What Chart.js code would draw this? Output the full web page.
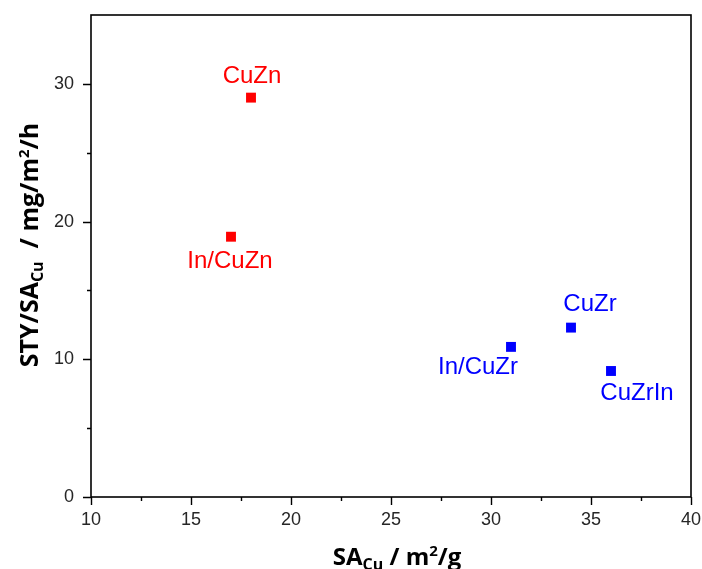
<!DOCTYPE html>
<html>
<head>
<meta charset="utf-8">
<script src="https://cdn.jsdelivr.net/npm/chart.js@4/dist/chart.umd.min.js"></script>
<style>
  html, body { margin: 0; padding: 0; background: #fff; }
  #wrap { width: 702px; height: 569px; position: relative; }
</style>
</head>
<body>
<div id="wrap"><canvas id="c" width="702" height="569"></canvas></div>
<script>
// Catalyst samples: Cu surface area vs. area-normalised space-time yield
const znSamples = ['CuZn', 'In/CuZn'];
const znSurfaceArea = [18, 17];
const znYield = [29.0, 18.9];

const zrSamples = ['CuZr', 'In/CuZr', 'CuZrIn'];
const zrSurfaceArea = [34, 31, 36];
const zrYield = [12.3, 10.9, 9.15];

const xMajorTicks = [10, 15, 20, 25, 30, 35, 40];
const yMajorTicks = [0, 10, 20, 30];

// where each sample's name sits relative to its marker (dx, dy in px)
const labelOffsets = {
  'CuZn': [1, -21],
  'In/CuZn': [-1, 25],
  'CuZr': [19, -23],
  'In/CuZr': [-33, 20],
  'CuZrIn': [26, 22]
};

const RED = '#ff0000';
const BLUE = '#0000ff';

const toPoints = (xs, ys) => xs.map((x, i) => ({ x, y: ys[i] }));

const frameAndLabels = {
  id: 'frameAndLabels',
  afterDraw(chart) {
    const { ctx, chartArea: a, scales } = chart;
    const xs = scales.x, ys = scales.y;
    ctx.save();
    // frame
    ctx.strokeStyle = '#000';
    ctx.lineWidth = 1.6;
    ctx.strokeRect(a.left, a.top, a.right - a.left, a.bottom - a.top);
    // ticks on bottom and left axes
    ctx.lineWidth = 1.4;
    ctx.beginPath();
    for (let v = 10; v <= 40.001; v += 2.5) {
      const px = Math.round(xs.getPixelForValue(v)) + 0.5;
      const major = Math.abs(v % 5) < 1e-6;
      ctx.moveTo(px, a.bottom);
      ctx.lineTo(px, a.bottom + (major ? 8 : 4));
    }
    for (let v = 0; v <= 30.001; v += 5) {
      const py = Math.round(ys.getPixelForValue(v)) + 0.5;
      const major = Math.abs(v % 10) < 1e-6;
      ctx.moveTo(a.left, py);
      ctx.lineTo(a.left - (major ? 8 : 4), py);
    }
    ctx.stroke();

    // sample names
    ctx.font = '24px "Liberation Sans", Arial, sans-serif';
    ctx.textAlign = 'center';
    ctx.textBaseline = 'middle';
    chart.data.datasets.forEach((ds, di) => {
      const meta = chart.getDatasetMeta(di);
      ctx.fillStyle = ds.backgroundColor;
      meta.data.forEach((el, i) => {
        const name = ds.names[i];
        const off = labelOffsets[name] || [0, -20];
        ctx.fillText(name, el.x + off[0], el.y + off[1]);
      });
    });

    // axis titles with sub/superscripts
    const bold = (s) => `bold ${s}px "Open Sans", "DejaVu Sans", sans-serif`;
    function drawRich(parts, cx, cy) {
      let total = 0;
      parts.forEach(p => { ctx.font = bold(p.size); total += ctx.measureText(p.t).width; });
      let x = cx - total / 2;
      ctx.textAlign = 'left';
      ctx.textBaseline = 'alphabetic';
      parts.forEach(p => {
        ctx.font = bold(p.size);
        ctx.fillText(p.t, x, cy + (p.dy || 0));
        x += ctx.measureText(p.t).width;
      });
    }
    ctx.fillStyle = '#000';
    drawRich([
      { t: 'SA', size: 24 },
      { t: 'Cu', size: 16, dy: 5 },
      { t: ' / m', size: 24 },
      { t: '2', size: 15, dy: -9 },
      { t: '/g', size: 24 }
    ], 397, 565);

    ctx.save();
    ctx.translate(38, 245);
    ctx.rotate(-Math.PI / 2);
    drawRich([
      { t: 'STY/SA', size: 25 },
      { t: 'Cu', size: 16, dy: 5 },
      { t: '  / mg/m', size: 25 },
      { t: '2', size: 15, dy: -9 },
      { t: '/h', size: 25 }
    ], 0, 0);
    ctx.restore();
    ctx.restore();
  }
};

new Chart(document.getElementById('c'), {
  type: 'scatter',
  data: {
    datasets: [
      {
        names: znSamples,
        data: toPoints(znSurfaceArea, znYield),
        backgroundColor: RED,
        borderWidth: 0,
        pointStyle: 'rect',
        pointRadius: 7,
        pointHoverRadius: 7
      },
      {
        names: zrSamples,
        data: toPoints(zrSurfaceArea, zrYield),
        backgroundColor: BLUE,
        borderWidth: 0,
        pointStyle: 'rect',
        pointRadius: 7,
        pointHoverRadius: 7
      }
    ]
  },
  options: {
    responsive: false,
    animation: false,
    devicePixelRatio: 1,
    layout: { padding: { left: 0, right: 11, top: 15, bottom: 0 } },
    plugins: { legend: { display: false }, tooltip: { enabled: false } },
    scales: {
      x: {
        type: 'linear',
        min: 10, max: 40,
        grid: { display: false, drawTicks: false },
        border: { display: false },
        afterBuildTicks: (s) => { s.ticks = xMajorTicks.map(v => ({ value: v })); },
        afterFit: (s) => { s.height = 72; s.paddingLeft = 0; s.paddingRight = 0; },
        ticks: {
          padding: 12,
          color: '#262626',
          font: { family: '"Liberation Sans", Arial, sans-serif', size: 18 }
        }
      },
      y: {
        type: 'linear',
        min: 0, max: 35,
        grid: { display: false, drawTicks: false },
        border: { display: false },
        afterBuildTicks: (s) => { s.ticks = yMajorTicks.map(v => ({ value: v })); },
        afterFit: (s) => { s.width = 91; s.paddingTop = 0; s.paddingBottom = 0; },
        ticks: {
          padding: 17,
          color: '#262626',
          font: { family: '"Liberation Sans", Arial, sans-serif', size: 18 }
        }
      }
    }
  },
  plugins: [frameAndLabels]
});
</script>
</body>
</html>
